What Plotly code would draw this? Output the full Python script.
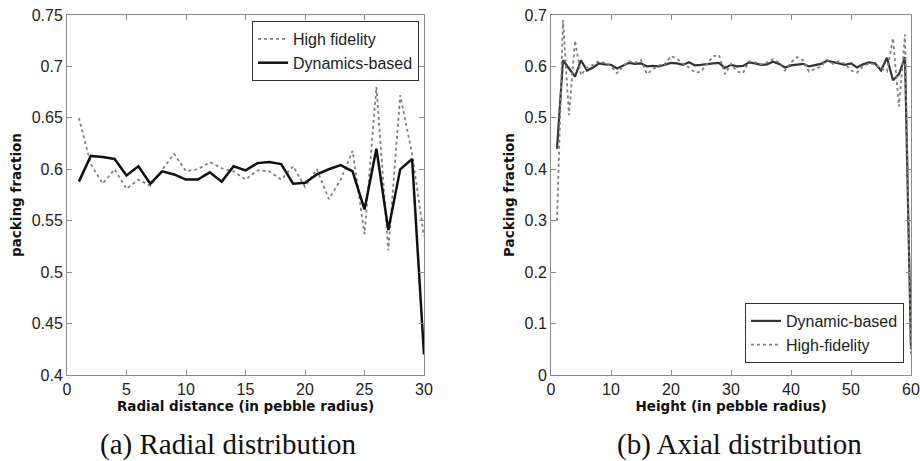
import plotly.graph_objects as go

# ---------------- data ----------------
radial_x = list(range(1, 31))
radial_dynamics = [0.588, 0.613, 0.612, 0.610, 0.594, 0.603, 0.586, 0.598, 0.595, 0.590,
                   0.590, 0.597, 0.588, 0.603, 0.599, 0.606, 0.607, 0.605, 0.586, 0.587,
                   0.595, 0.600, 0.604, 0.598, 0.561, 0.620, 0.541, 0.600, 0.610, 0.420]
radial_highfid = [0.650, 0.605, 0.586, 0.600, 0.581, 0.590, 0.584, 0.600, 0.615, 0.598,
                  0.600, 0.607, 0.601, 0.598, 0.590, 0.599, 0.598, 0.590, 0.603, 0.583,
                  0.600, 0.571, 0.590, 0.618, 0.537, 0.680, 0.521, 0.672, 0.615, 0.535]

axial_x = list(range(1, 61))
axial_dynamic = [0.440, 0.612, 0.596, 0.580, 0.612, 0.592, 0.598, 0.606, 0.604, 0.603,
                 0.596, 0.602, 0.607, 0.605, 0.606, 0.600, 0.601, 0.600, 0.604, 0.607,
                 0.606, 0.603, 0.608, 0.602, 0.603, 0.605, 0.606, 0.607, 0.597, 0.603,
                 0.600, 0.601, 0.608, 0.606, 0.603, 0.604, 0.609, 0.605, 0.598, 0.602,
                 0.603, 0.605, 0.600, 0.603, 0.605, 0.611, 0.608, 0.605, 0.603, 0.606,
                 0.598, 0.604, 0.608, 0.606, 0.592, 0.617, 0.573, 0.585, 0.618, 0.050]
axial_highfid = [0.300, 0.690, 0.505, 0.650, 0.583, 0.598, 0.603, 0.610, 0.607, 0.600,
                 0.587, 0.600, 0.610, 0.607, 0.612, 0.585, 0.595, 0.602, 0.605, 0.620,
                 0.615, 0.605, 0.598, 0.588, 0.590, 0.605, 0.620, 0.622, 0.585, 0.605,
                 0.590, 0.587, 0.610, 0.608, 0.604, 0.608, 0.614, 0.607, 0.592, 0.608,
                 0.618, 0.612, 0.590, 0.595, 0.600, 0.613, 0.605, 0.610, 0.605, 0.592,
                 0.588, 0.600, 0.606, 0.604, 0.597, 0.590, 0.655, 0.522, 0.662, 0.040]

radial_xticks = [0, 5, 10, 15, 20, 25, 30]
radial_yticks = [0.4, 0.45, 0.5, 0.55, 0.6, 0.65, 0.7, 0.75]
radial_ylabels = ["0.4", "0.45", "0.5", "0.55", "0.6", "0.65", "0.7", "0.75"]
axial_xticks = [0, 10, 20, 30, 40, 50, 60]
axial_yticks = [0, 0.1, 0.2, 0.3, 0.4, 0.5, 0.6, 0.7]
axial_ylabels = ["0", "0.1", "0.2", "0.3", "0.4", "0.5", "0.6", "0.7"]

# ---------------- figure ----------------
fig = go.Figure()

fig.add_trace(go.Scatter(x=radial_x, y=radial_highfid, mode="lines", name="High fidelity",
                         line=dict(color="#808080", width=1.8, dash="dot"),
                         xaxis="x", yaxis="y", legend="legend"))
fig.add_trace(go.Scatter(x=radial_x, y=radial_dynamics, mode="lines", name="Dynamics-based",
                         line=dict(color="#111111", width=2.5),
                         xaxis="x", yaxis="y", legend="legend"))

fig.add_trace(go.Scatter(x=axial_x, y=axial_dynamic, mode="lines", name="Dynamic-based",
                         line=dict(color="#333333", width=2.2),
                         xaxis="x2", yaxis="y2", legend="legend2"))
fig.add_trace(go.Scatter(x=axial_x, y=axial_highfid, mode="lines", name="High-fidelity",
                         line=dict(color="#808080", width=1.8, dash="dot"),
                         xaxis="x2", yaxis="y2", legend="legend2"))

W, H = 920, 461
tickfont = dict(family="Liberation Sans, Arial", size=16, color="#222")
titlefont = dict(family="DejaVu Sans", size=13.5, color="#111", weight="bold")
axis_common = dict(showgrid=False, zeroline=False, showline=True, linecolor="#8c8c8c",
                   linewidth=1, mirror="ticks", ticks="inside", ticklen=5,
                   tickcolor="#8c8c8c", tickfont=tickfont, automargin=False)

fig.update_layout(
    width=W, height=H,
    margin=dict(l=0, r=0, t=0, b=0),
    paper_bgcolor="white", plot_bgcolor="white",
    xaxis=dict(domain=[67 / W, 424 / W], range=[0, 30], tickvals=radial_xticks,
               title=dict(text="Radial distance (in pebble radius)", font=titlefont, standoff=3),
               anchor="y", **axis_common),
    yaxis=dict(domain=[(H - 375) / H, (H - 15) / H], range=[0.4, 0.75],
               tickvals=radial_yticks, ticktext=radial_ylabels,
               title=dict(text="packing fraction", font=titlefont, standoff=6),
               anchor="x", **axis_common),
    xaxis2=dict(domain=[551 / W, 911 / W], range=[0, 60], tickvals=axial_xticks,
                title=dict(text="Height (in pebble radius)", font=titlefont, standoff=3),
                anchor="y2", **axis_common),
    yaxis2=dict(domain=[(H - 375) / H, (H - 15) / H], range=[0, 0.7],
                tickvals=axial_yticks, ticktext=axial_ylabels,
                title=dict(text="Packing fraction", font=titlefont, standoff=6),
                anchor="x2", **axis_common),
    legend=dict(x=419 / W, y=(H - 21) / H, xanchor="right", yanchor="top",
                bordercolor="#333", borderwidth=1, bgcolor="white",
                font=dict(family="Liberation Sans, Arial", size=16, color="#222"),
                tracegroupgap=0, itemwidth=30),
    legend2=dict(x=904 / W, y=(H - 363) / H, xanchor="right", yanchor="bottom",
                 bordercolor="#333", borderwidth=1, bgcolor="white",
                 font=dict(family="Liberation Sans, Arial", size=16, color="#222"),
                 tracegroupgap=0, itemwidth=30),
    showlegend=True,
)

caption_font = dict(family="Liberation Serif, Times New Roman", size=29, color="#111")
fig.add_annotation(text="(a) Radial distribution", x=228 / W, y=(H - 444) / H,
                   xref="paper", yref="paper", showarrow=False, font=caption_font,
                   xanchor="center", yanchor="middle")
fig.add_annotation(text="(b) Axial distribution", x=739 / W, y=(H - 444) / H,
                   xref="paper", yref="paper", showarrow=False, font=caption_font,
                   xanchor="center", yanchor="middle")

fig.write_html(
    "out.html",
    config={"displayModeBar": False},
    post_script="document.body.style.margin='0';document.body.style.overflow='hidden';",
)
